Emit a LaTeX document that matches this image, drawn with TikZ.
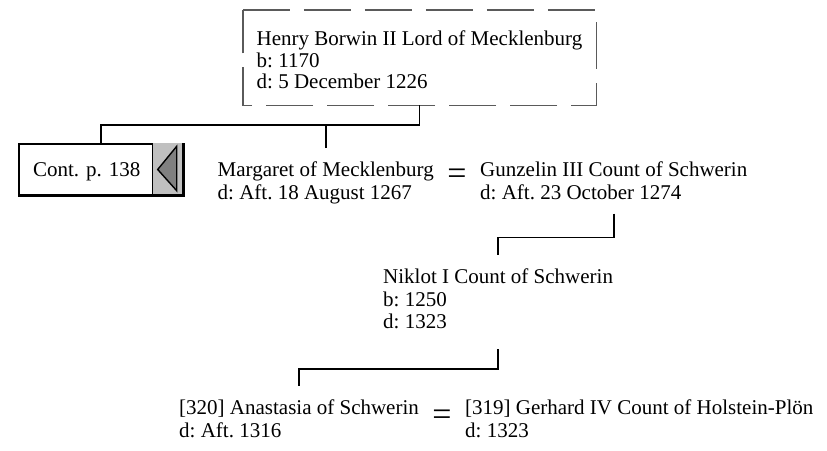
\documentclass[tikz,border=0pt]{standalone}
\usepackage{fontspec}
\setmainfont{Liberation Serif}
\usetikzlibrary{positioning}
\frenchspacing

\definecolor{boxgray}{RGB}{192,192,192}
\definecolor{arrowgray}{RGB}{128,128,128}
\definecolor{dashgray}{RGB}{90,90,90}

\tikzset{
  person/.style={align=left, anchor=north west, inner sep=0pt, outer ysep=14pt,
    font=\fontsize{21}{22.5}\selectfont},
  link/.style={line width=1.6pt},
  eqsign/.style={inner sep=0pt, font=\fontsize{34}{34}\selectfont}
}

\begin{document}
\begin{tikzpicture}[x=1pt,y=-1pt]
\useasboundingbox (0,0) rectangle (827,450);
% root of this page
\node[minimum width=353pt, minimum height=95pt, inner sep=0pt, align=left,
  font=\fontsize{21}{21.5}\selectfont] (henry) at (419.5,57.5)
  {\rule{0pt}{19.5pt}Henry Borwin II Lord of Mecklenburg\\b: 1170\\d: 5 December 1226};
\draw[dashgray, line width=1.4pt, dash pattern=on 47pt off 14pt]
  (henry.north west) -- (henry.north east) -- (henry.south east)
  -- (henry.south west) -- cycle;
% continuation box
\node[draw, line width=1.4pt, fill=white, minimum width=164pt, minimum height=51pt,
  text width=136pt, inner xsep=14pt, align=left, text height=14pt, text depth=0pt,
  font=\fontsize{21}{21}\selectfont] (cont) at (101,169.5) {Cont. p. 138};
\fill[boxgray] ([xshift=-31pt]cont.north east) rectangle (cont.south east);
\draw[line width=1pt] ([xshift=-31pt]cont.north east) -- ([xshift=-31pt]cont.south east);
\draw[line width=1.4pt, fill=arrowgray] ([xshift=-26pt]cont.west -| cont.east)
  -- ([xshift=-7pt,yshift=-3pt]cont.north east) -- ([xshift=-7pt,yshift=5pt]cont.south east) -- cycle;
\draw[line width=3pt] (cont.north east) -- (cont.south east) -- (cont.south west);
% people
\node[person] (margaret) at (217.5,148) {Margaret of Mecklenburg\\d: Aft. 18 August 1267};
\node[eqsign] (eq1) at (457,177) {=};
\node[person] (gunzelin) at (480,148) {Gunzelin III Count of Schwerin\\d: Aft. 23 October 1274};
\node[person] (niklot) at (383,255) {Niklot I Count of Schwerin\\b: 1250\\d: 1323};
\node[person] (anastasia) at (179,386) {[320] Anastasia of Schwerin\\d: Aft. 1316};
\node[eqsign] (eq2) at (442,418) {=};
\node[person] (gerhard) at (465,386) {[319] Gerhard IV Count of Holstein-Plön\\d: 1323};
% lines of descent
\draw[link] (henry.south) -- ++(0,20) coordinate (bus1);
\draw[link] (cont.north) |- (bus1);
\draw[link] (margaret.north) -- (margaret.north |- bus1);
\draw[link] (gunzelin.south) -- ++(0,24) -| (niklot.north);
\draw[link] ([yshift=-6pt]niklot.south) -- ++(0,20) -| (anastasia.north);
\end{tikzpicture}
\end{document}
